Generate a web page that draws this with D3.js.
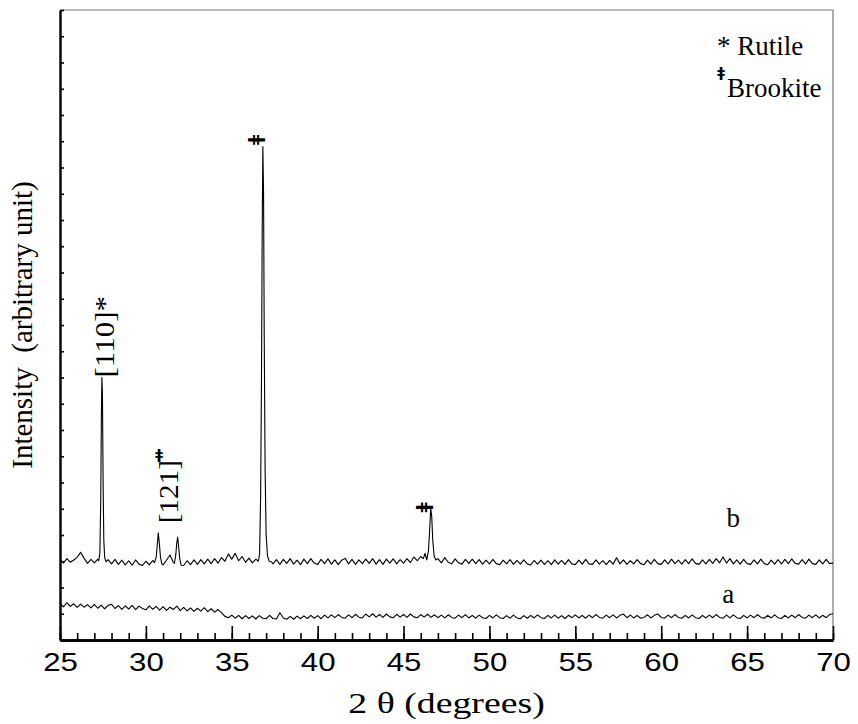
<!DOCTYPE html>
<html lang="en">
<head>
  <meta charset="UTF-8">
  <title>XRD pattern</title>
  <script src="https://cdn.jsdelivr.net/npm/d3@7"></script>
  <style>
    body { margin: 0; background: #fff; }
    svg { display: block; }
    text { white-space: pre; }
  </style>
</head>
<body>
  <script>
    // 2-theta grid for the scans: 25 .. 70 deg, 0.2 deg steps
    const thetaStart = 25, thetaStep = 0.2;

    // scan b (baseline values, arbitrary units)
    const scanB = [
      3.08, 2.93, 3.10, 2.96, 3.05, 3.15, 3.34, 3.12, 2.92, 3.07,
      2.94, 3.08, 3.00, 3.00, 3.06, 2.90, 3.07, 2.88, 3.04, 2.86,
      3.02, 2.85, 3.05, 2.89, 2.84, 3.00, 2.86, 3.03, 3.00, 3.00,
      2.86, 3.04, 3.24, 2.95, 3.00, 3.00, 2.84, 3.02, 2.87, 3.05,
      2.88, 3.06, 2.90, 3.08, 2.91, 3.10, 2.93, 3.14, 3.00, 3.28,
      3.08, 3.30, 3.02, 3.18, 2.96, 3.12, 2.94, 3.08, 3.00, 3.00,
      3.00, 3.00, 2.90, 3.06, 2.88, 3.07, 2.92, 3.10, 2.89, 3.04,
      2.87, 3.08, 2.91, 3.10, 2.93, 2.88, 3.07, 2.91, 3.09, 2.89,
      3.05, 2.87, 3.04, 3.11, 2.90, 3.07, 2.88, 3.05, 2.91, 3.08,
      2.92, 3.10, 2.89, 3.06, 2.88, 3.08, 2.93, 3.09, 2.90, 3.06,
      2.93, 3.10, 2.95, 3.16, 3.02, 3.18, 3.00, 3.00, 3.00, 3.00,
      3.10, 2.94, 3.14, 2.96, 2.90, 3.09, 2.94, 2.89, 3.07, 2.92,
      3.08, 2.91, 3.06, 2.89, 3.04, 2.90, 3.07, 2.91, 2.87, 3.04,
      2.90, 3.06, 2.88, 3.03, 2.89, 3.05, 2.90, 2.86, 3.03, 2.89,
      3.04, 2.88, 3.02, 2.87, 3.05, 2.89, 3.03, 2.88, 3.06, 2.90,
      2.87, 3.04, 2.89, 3.07, 2.90, 2.88, 3.05, 2.89, 3.02, 2.87,
      3.03, 2.89, 3.13, 2.90, 3.05, 2.88, 3.02, 2.90, 3.06, 2.91,
      2.87, 3.04, 2.89, 3.07, 2.91, 2.88, 3.05, 2.90, 3.08, 2.91,
      3.04, 2.89, 3.06, 2.91, 3.09, 2.92, 2.88, 3.05, 2.90, 3.07,
      2.92, 3.10, 2.94, 3.16, 2.93, 3.10, 2.90, 3.05, 2.89, 3.07,
      2.91, 2.88, 3.05, 2.90, 3.08, 2.91, 2.87, 3.04, 2.89, 3.06,
      2.90, 3.07, 2.91, 3.09, 2.92, 2.89, 3.06, 2.90, 3.08, 2.91,
      2.88, 3.05, 2.90, 3.07, 2.91, 2.93
    ];

    // finer points across the diffraction peaks of scan b: [2theta, intensity]
    const peaksB = [
      [[27.25, 3.02], [27.32, 3.3], [27.37, 5.2], [27.41, 8.6], [27.44, 10.0], [27.47, 9.4], [27.51, 6.0], [27.55, 3.8], [27.6, 3.15], [27.68, 2.98]],
      [[30.5, 2.95], [30.6, 3.15], [30.66, 3.6], [30.72, 4.08], [30.78, 3.7], [30.85, 3.15], [30.93, 2.9]],
      [[31.66, 2.92], [31.74, 3.25], [31.8, 3.7], [31.85, 3.92], [31.9, 3.6], [31.97, 3.1], [32.05, 2.85]],
      [[36.55, 3.0], [36.62, 3.3], [36.68, 5.5], [36.73, 10.0], [36.77, 15.5], [36.81, 18.8], [36.85, 17.0], [36.89, 11.5], [36.94, 6.5], [37.0, 4.0], [37.08, 3.2], [37.18, 3.0], [37.3, 2.98]],
      [[46.15, 3.1], [46.25, 3.3], [46.35, 3.05], [46.45, 3.4], [46.52, 4.2], [46.58, 5.03], [46.64, 4.7], [46.7, 3.8], [46.78, 3.2], [46.88, 3.05]]
    ];

    // scan a (amorphous, no peaks)
    const scanA = [
      1.40, 1.26, 1.42, 1.28, 1.38, 1.24, 1.37, 1.25, 1.35, 1.22,
      1.36, 1.21, 1.33, 1.19, 1.32, 1.36, 1.20, 1.31, 1.17, 1.30,
      1.18, 1.32, 1.16, 1.29, 1.20, 1.15, 1.30, 1.17, 1.28, 1.14,
      1.27, 1.13, 1.25, 1.16, 1.29, 1.12, 1.24, 1.11, 1.22, 1.09,
      1.21, 1.10, 1.23, 1.08, 1.19, 1.06, 1.16, 1.04, 0.90, 0.85,
      0.95, 0.83, 0.94, 0.81, 0.93, 0.82, 0.92, 0.80, 0.93, 0.83,
      0.81, 0.94, 0.82, 0.80, 1.04, 0.84, 0.79, 0.90, 0.79, 0.91,
      0.81, 0.92, 0.82, 0.94, 0.83, 0.93, 0.81, 0.95, 0.84, 0.96,
      0.85, 0.97, 0.86, 0.83, 0.96, 0.85, 0.98, 0.87, 0.84, 0.99,
      0.88, 1.00, 0.87, 0.97, 0.86, 0.99, 0.88, 0.85, 0.98, 0.87,
      0.97, 0.86, 0.99, 0.88, 0.85, 0.97, 0.87, 0.98, 0.86, 0.96,
      0.85, 0.95, 0.84, 0.96, 0.86, 0.83, 0.95, 0.85, 0.97, 0.84,
      0.94, 0.83, 0.95, 0.85, 0.82, 0.94, 0.84, 0.96, 0.85, 0.82,
      0.93, 0.83, 0.95, 0.84, 0.81, 0.93, 0.83, 0.94, 0.84, 0.96,
      0.85, 0.82, 0.94, 0.84, 0.95, 0.83, 0.93, 0.82, 0.94, 0.85,
      0.96, 0.84, 0.94, 0.83, 0.95, 0.85, 0.97, 0.86, 0.83, 0.95,
      0.85, 0.96, 0.84, 0.94, 0.99, 0.85, 0.95, 0.84, 0.94, 0.83,
      0.86, 0.96, 0.84, 0.94, 0.99, 0.86, 0.83, 0.95, 0.85, 0.97,
      0.86, 0.83, 0.94, 0.84, 0.96, 0.85, 0.82, 0.94, 0.84, 0.95,
      0.85, 0.97, 0.86, 0.83, 0.95, 0.84, 0.96, 0.85, 0.82, 0.94,
      0.84, 0.95, 0.85, 0.97, 0.86, 0.83, 0.94, 0.84, 0.96, 0.85,
      0.82, 0.94, 0.84, 0.95, 0.85, 0.97, 0.86, 0.83, 0.95, 0.85,
      0.96, 0.84, 0.94, 0.85, 0.97, 1.00
    ];

    const majorTicks = [25, 30, 35, 40, 45, 50, 55, 60, 65, 70];

    // annotations anchored in data space
    const indexLabels = [
      { text: "[110]*", theta: 27.44, value: 10.0 },
      { text: "[121]", theta: 31.3, value: 4.45 }
    ];
    const brookiteMarks = [
      { theta: 30.77, value: 7.1, upright: true },
      { theta: 36.35, value: 19.05, upright: false },
      { theta: 46.13, value: 5.05, upright: false }
    ];
    const curveTags = [
      { text: "b", theta: 64.2, value: 4.3 },
      { text: "a", theta: 63.9, value: 1.4 }
    ];

    const width = 858, height = 724;
    const margin = { top: 10, right: 25, bottom: 84, left: 60 };
    const serif = "'Liberation Serif', 'Times New Roman', serif";
    const sans = "'Liberation Sans', Arial, sans-serif";
    const markFont = "'DejaVu Sans', sans-serif";

    const x = d3.scaleLinear([25, 70], [margin.left, width - margin.right]);
    const y = d3.scaleLinear([0, 24], [height - margin.bottom, margin.top]);

    const svg = d3.select("body").append("svg")
        .attr("width", width)
        .attr("height", height);

    function buildScan(values, peaks) {
      const pts = values.map((v, i) => [thetaStart + i * thetaStep, v]);
      const windows = peaks.map(p => [p[0][0], p[p.length - 1][0]]);
      return pts
        .filter(([t]) => !windows.some(([a, b]) => t >= a && t <= b))
        .concat(peaks.flat())
        .sort((p, q) => p[0] - q[0]);
    }

    const line = d3.line().x(d => x(d[0])).y(d => y(d[1]));

    // frame: grey top/right
    svg.append("path")
        .attr("d", `M${x(25)},${y(24)}H${x(70)}V${y(0)}`)
        .attr("fill", "none")
        .attr("stroke", "#777")
        .attr("stroke-width", 1.2);

    svg.append("g")
        .attr("fill", "none")
        .attr("stroke", "#000")
        .attr("stroke-width", 1.1)
        .attr("stroke-linejoin", "round")
      .selectAll("path")
      .data([buildScan(scanB, peaksB), buildScan(scanA, [])])
      .join("path")
        .attr("d", line);

    // x axis: minor + major ticks pointing inward
    const gxMinor = svg.append("g")
        .attr("transform", `translate(0,${y(0)})`)
        .call(d3.axisBottom(x).tickValues(d3.range(25, 71, 1)).tickSize(-7).tickSizeOuter(0).tickFormat(""));
    const gx = svg.append("g")
        .attr("transform", `translate(0,${y(0)})`)
        .call(d3.axisBottom(x).tickValues(majorTicks).tickSize(-14).tickSizeOuter(0).tickPadding(13).tickFormat(d3.format("d")));
    gx.selectAll("text")
        .attr("font-family", sans)
        .attr("font-size", 26)
        .attr("fill", "#000")
        .attr("transform", "scale(1.2,1)");

    const gy = svg.append("g")
        .attr("transform", `translate(${x(25)},0)`)
        .call(d3.axisLeft(y).tickValues(d3.range(0, 25, 1)).tickSize(-4).tickSizeOuter(0).tickFormat(""));

    [gxMinor, gx, gy].forEach(g => {
      g.select(".domain").attr("stroke", "#000").attr("stroke-width", 2.4);
      g.selectAll(".tick line").attr("stroke", "#000").attr("stroke-width", 1.6);
    });

    // axis titles
    svg.append("text")
        .attr("transform", `translate(${(x(25) + x(70)) / 2},713) scale(1.26,1)`)
        .attr("text-anchor", "middle")
        .attr("font-family", serif)
        .attr("font-size", 30)
        .text("2 θ (degrees)");

    svg.append("text")
        .attr("transform", `translate(32,${(y(0) + y(24)) / 2}) rotate(-90)`)
        .attr("text-anchor", "middle")
        .attr("font-family", serif)
        .attr("font-size", 29)
        .text("Intensity  (arbitrary unit)");

    // peak annotations (rotated Miller indices)
    svg.append("g")
        .attr("font-family", serif)
        .attr("font-size", 27)
      .selectAll("text")
      .data(indexLabels)
      .join("text")
        .attr("transform", (d, i) => `translate(${x(d.theta)},${y(d.value)}) rotate(-90) scale(${i ? 1.08 : 1.15},1)`)
        .attr("dy", (d, i) => i ? "0.35em" : "0.45em")
        .text(d => d.text);

    svg.append("g")
        .attr("font-family", markFont)
        .attr("font-weight", "bold")
      .selectAll("text")
      .data(brookiteMarks)
      .join("text")
        .attr("transform", d => `translate(${x(d.theta)},${y(d.value)}) rotate(${d.upright ? 0 : -90})`)
        .attr("font-size", d => d.upright ? 14 : 18)
        .attr("text-anchor", "middle")
        .attr("dominant-baseline", "central")
        .text("ǂ");

    svg.append("g")
        .attr("font-family", serif)
        .attr("font-size", 27)
        .attr("text-anchor", "middle")
      .selectAll("text")
      .data(curveTags)
      .join("text")
        .attr("x", d => x(d.theta))
        .attr("y", d => y(d.value))
        .text(d => d.text);

    // legend
    const legend = svg.append("g")
        .attr("font-family", serif)
        .attr("font-size", 27);
    legend.append("text")
        .attr("x", 717).attr("y", 55)
        .text("* Rutile");
    legend.append("text")
        .attr("x", 721).attr("y", 72)
        .attr("text-anchor", "middle")
        .attr("dominant-baseline", "central")
        .attr("font-family", markFont)
        .attr("font-size", 14)
        .attr("font-weight", "bold")
        .text("ǂ");
    legend.append("text")
        .attr("x", 727).attr("y", 97)
        .text("Brookite");
  </script>
</body>
</html>
